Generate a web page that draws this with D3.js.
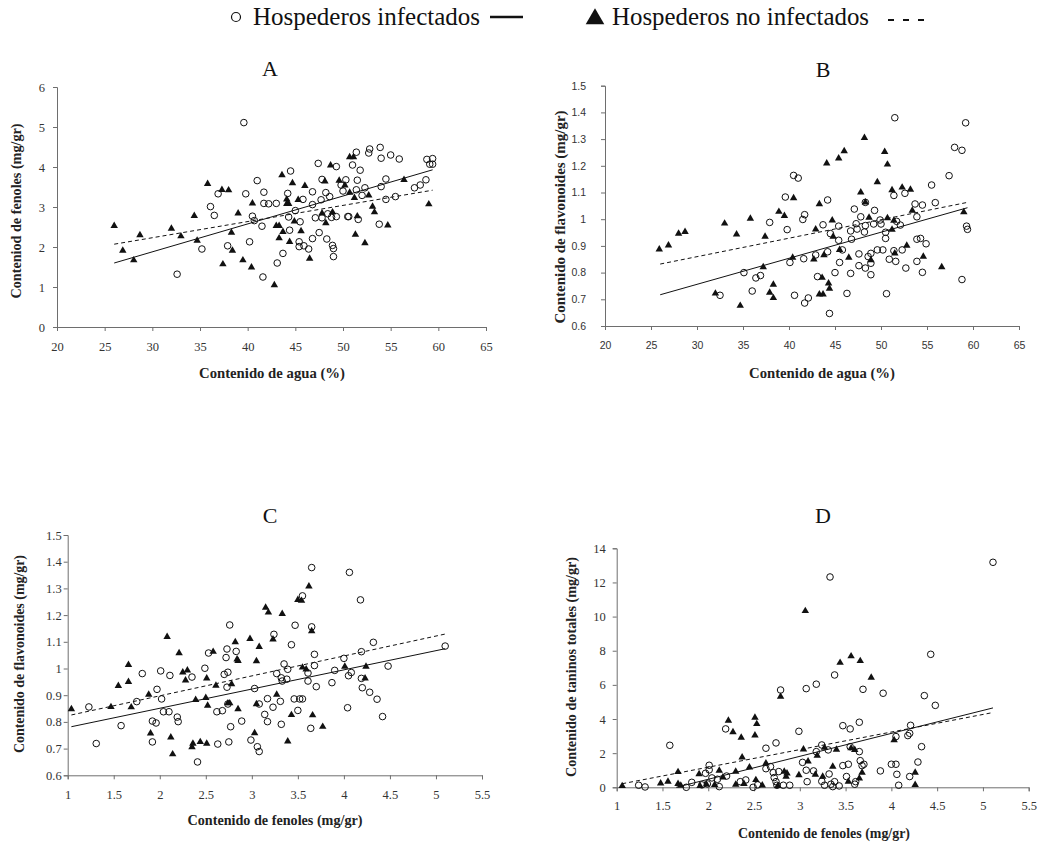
<!DOCTYPE html>
<html>
<head>
<meta charset="utf-8">
<script src="https://cdn.jsdelivr.net/npm/d3@7"></script>
<style>
  body { margin: 0; background: #fff; }
  svg { display: block; }
</style>
</head>
<body>
<svg id="chart" width="1045" height="846"></svg>
<script>
'use strict';

// A: contenido de agua vs fenoles
const aInf = [[32.6,1.32],[35.2,1.95],[36.1,3.01],[36.5,2.79],[36.9,3.33],[37.9,2.03],[39.6,5.11],[39.8,3.33],[40.2,2.13],[40.5,2.77],[40.7,2.66],[41.0,3.66],[41.5,2.52],[41.6,1.25],[41.7,3.37],[41.7,3.09],[42.2,3.08],[43.0,3.09],[43.1,1.60],[43.7,1.84],[44.2,3.34],[44.3,2.75],[44.4,2.42],[44.5,3.90],[45.0,2.91],[45.4,2.01],[45.4,2.13],[45.5,2.63],[45.8,3.19],[45.9,2.03],[46.4,1.95],[46.8,3.06],[46.8,3.38],[46.8,2.21],[47.1,2.73],[47.4,4.09],[47.5,2.36],[47.7,3.18],[47.8,3.69],[47.8,2.73],[48.2,3.36],[48.3,2.20],[48.4,2.83],[48.6,3.26],[48.8,2.74],[48.9,2.04],[49.0,1.96],[49.0,1.76],[49.3,4.01],[49.3,2.76],[49.8,3.55],[50.0,3.40],[50.3,3.68],[50.5,2.76],[50.6,2.76],[51.0,4.05],[51.4,4.37],[51.4,3.43],[51.5,3.67],[51.6,2.69],[51.8,3.92],[52.0,3.29],[52.3,3.48],[52.7,4.35],[52.8,4.45],[53.8,2.57],[54.0,3.51],[53.9,4.49],[54.0,4.22],[54.5,3.70],[54.5,3.19],[55.0,4.30],[55.5,3.26],[55.9,4.20],[57.5,3.48],[58.1,3.55],[58.7,3.68],[58.8,4.19],[59.1,4.07],[59.4,4.21],[59.4,4.07]];
const aNon = [[26.0,2.53],[26.9,1.91],[28.05,1.67],[28.7,2.30],[32.0,2.46],[33.0,2.27],[34.4,2.78],[34.7,2.16],[35.8,3.58],[37.3,3.43],[38.0,3.42],[37.4,1.57],[38.3,2.36],[38.4,1.91],[39.0,2.84],[39.5,1.67],[40.4,1.49],[40.5,3.09],[42.8,1.05],[43.0,2.53],[43.3,2.53],[43.3,2.22],[43.6,3.80],[43.7,2.38],[44.1,3.19],[44.1,3.08],[44.3,3.08],[44.4,2.13],[44.7,3.60],[44.9,2.64],[45.3,3.18],[45.6,2.40],[46.0,3.53],[46.5,1.71],[47.8,2.84],[48.1,3.64],[48.2,2.60],[48.7,4.04],[48.9,2.87],[49.6,3.66],[50.2,3.54],[50.7,4.25],[51.1,4.25],[50.7,3.36],[51.2,3.23],[51.3,2.31],[51.5,2.77],[52.3,2.10],[52.7,3.29],[53.1,3.01],[53.3,2.87],[54.7,2.54],[56.4,3.68],[59.0,3.07]];
const aTrendInf = [[26,1.6],[59.4,3.93]];
const aTrendNon = [[26,2.07],[59.4,3.42]];

// B: contenido de agua vs flavonoides
const bInf = [[32.5,0.715],[35.1,0.800],[36.0,0.731],[36.4,0.780],[36.9,0.789],[37.9,0.988],[39.6,1.083],[39.8,0.961],[40.1,0.838],[40.5,1.164],[40.6,0.715],[41.0,1.154],[41.5,0.999],[41.6,0.852],[41.7,1.017],[41.7,0.686],[42.1,0.705],[42.9,0.866],[43.1,0.785],[43.7,0.979],[44.2,1.072],[44.2,0.878],[44.4,0.647],[44.5,0.946],[45.0,0.800],[45.4,0.921],[45.4,0.974],[45.5,0.838],[45.8,0.885],[46.3,0.722],[46.7,0.956],[46.7,0.797],[46.8,0.925],[47.1,1.038],[47.3,0.983],[47.4,0.963],[47.6,0.870],[47.6,0.826],[47.8,1.009],[48.2,0.952],[48.3,0.817],[48.3,0.976],[48.3,1.063],[48.6,0.860],[48.9,0.835],[48.9,0.792],[48.9,0.872],[49.2,0.982],[49.3,1.033],[49.6,0.885],[49.9,0.997],[50.0,0.982],[50.2,0.885],[50.5,0.951],[50.5,0.928],[50.6,0.721],[50.9,0.850],[51.4,1.089],[51.4,0.882],[51.5,1.380],[51.6,0.842],[51.7,0.992],[52.1,0.978],[52.3,0.885],[52.6,1.097],[52.7,0.817],[53.7,1.057],[53.9,1.009],[53.9,0.925],[53.9,0.842],[54.3,0.928],[54.5,1.053],[54.5,0.801],[54.9,0.908],[55.5,1.128],[55.9,1.062],[57.4,1.163],[58.0,1.269],[58.8,1.258],[58.8,0.774],[59.2,1.361],[59.3,0.974],[59.4,0.962]];
const bNon = [[25.9,0.887],[26.9,0.902],[28.0,0.946],[28.7,0.953],[32.0,0.722],[33.0,0.984],[34.3,0.943],[34.7,0.676],[35.8,1.002],[37.2,0.821],[37.4,0.935],[37.9,0.725],[38.3,0.755],[38.3,0.705],[38.9,1.028],[39.5,1.013],[40.4,0.856],[40.5,1.079],[42.7,0.850],[42.9,0.962],[43.3,1.057],[43.3,0.719],[43.6,0.781],[43.7,0.719],[43.8,0.866],[44.1,1.209],[44.3,0.760],[44.4,0.740],[44.7,0.996],[44.8,0.935],[45.4,1.228],[45.5,0.885],[46.0,1.255],[46.5,0.856],[47.8,1.101],[48.2,1.305],[48.3,1.063],[48.7,1.006],[48.9,0.847],[49.6,1.139],[50.4,1.252],[50.7,1.004],[50.7,1.205],[51.2,1.109],[51.2,0.961],[51.4,0.995],[51.5,0.872],[52.3,1.119],[52.8,0.901],[53.2,1.111],[53.4,1.032],[54.6,0.860],[56.6,0.821],[59.0,1.027]];
const bTrendInf = [[26,0.717],[59.4,1.043]];
const bTrendNon = [[26,0.832],[59.4,1.063]];

// C: fenoles vs flavonoides
const cInf = [[1.23,0.856],[1.31,0.719],[1.58,0.786],[1.75,0.876],[1.81,0.981],[1.92,0.803],[1.92,0.725],[1.96,0.796],[1.97,0.922],[2.01,0.991],[2.02,0.886],[2.04,0.838],[2.10,0.838],[2.11,0.974],[2.19,0.818],[2.20,0.801],[2.35,0.968],[2.41,0.650],[2.49,1.001],[2.53,1.058],[2.62,0.838],[2.63,0.717],[2.68,0.842],[2.70,0.978],[2.72,1.041],[2.73,1.073],[2.73,0.930],[2.74,0.867],[2.74,0.986],[2.75,0.725],[2.76,1.163],[2.77,0.782],[2.83,1.064],[2.89,0.803],[2.99,0.732],[3.03,0.925],[3.06,0.707],[3.08,0.689],[3.08,0.867],[3.14,0.828],[3.17,0.887],[3.17,0.801],[3.23,0.855],[3.24,1.128],[3.27,0.981],[3.31,0.877],[3.32,0.965],[3.32,0.791],[3.33,0.953],[3.35,1.017],[3.38,0.960],[3.39,0.997],[3.43,1.089],[3.46,0.886],[3.47,1.162],[3.50,0.843],[3.52,0.886],[3.55,0.886],[3.55,1.272],[3.61,0.983],[3.61,0.953],[3.64,0.776],[3.65,1.156],[3.65,1.378],[3.68,1.011],[3.68,1.053],[3.70,0.932],[3.87,0.947],[3.90,0.993],[4.00,1.038],[4.04,0.853],[4.05,0.973],[4.06,1.360],[4.08,0.985],[4.18,1.257],[4.19,1.063],[4.19,0.963],[4.20,0.928],[4.28,0.911],[4.32,1.098],[4.36,0.885],[4.42,0.820],[4.48,1.009],[5.10,1.084]];
const cNon = [[1.04,0.848],[1.47,0.856],[1.55,0.935],[1.66,0.950],[1.66,1.014],[1.69,0.855],[1.88,0.902],[1.90,0.757],[2.08,1.119],[2.12,0.742],[2.14,0.679],[2.21,1.058],[2.25,0.986],[2.28,0.956],[2.30,0.993],[2.35,0.706],[2.36,0.719],[2.39,0.883],[2.44,0.725],[2.50,0.890],[2.51,0.719],[2.51,0.963],[2.52,0.861],[2.58,1.063],[2.61,0.936],[2.74,0.870],[2.76,0.870],[2.78,0.942],[2.82,1.099],[2.84,1.034],[2.85,1.029],[2.85,0.848],[2.98,1.111],[3.03,0.758],[3.05,1.028],[3.05,0.867],[3.08,1.081],[3.15,1.228],[3.18,1.210],[3.23,1.109],[3.27,0.902],[3.33,1.205],[3.39,0.727],[3.43,0.826],[3.50,1.257],[3.54,1.254],[3.55,1.004],[3.59,0.997],[3.62,1.308],[3.65,1.140],[3.66,0.825],[3.77,0.782],[4.01,1.007],[4.23,0.963],[4.24,1.007]];
const cTrendInf = [[1.04,0.782],[5.10,1.074]];
const cTrendNon = [[1.04,0.826],[5.10,1.129]];

// D: fenoles vs taninos totales
const dInf = [[1.24,0.12],[1.31,0.02],[1.58,2.46],[1.76,0.00],[1.82,0.29],[1.93,0.14],[1.97,0.82],[1.99,0.20],[2.01,1.29],[2.01,1.02],[2.04,0.55],[2.10,0.47],[2.12,0.04],[2.19,3.42],[2.20,0.66],[2.35,0.33],[2.41,0.43],[2.49,0.00],[2.54,0.14],[2.63,1.09],[2.63,2.29],[2.68,1.21],[2.71,0.86],[2.72,0.57],[2.74,0.33],[2.74,2.60],[2.75,0.12],[2.77,0.92],[2.79,5.70],[2.82,0.12],[2.89,0.12],[2.99,3.28],[3.03,1.46],[3.07,1.00],[3.07,5.78],[3.08,0.33],[3.15,0.96],[3.18,6.04],[3.18,2.09],[3.24,2.48],[3.24,0.35],[3.27,0.12],[3.31,2.19],[3.32,0.78],[3.33,12.32],[3.34,0.18],[3.36,0.04],[3.38,6.58],[3.38,0.33],[3.43,0.08],[3.47,3.61],[3.47,1.27],[3.51,0.63],[3.53,1.35],[3.55,3.42],[3.55,2.38],[3.60,0.18],[3.61,0.33],[3.65,3.81],[3.65,2.09],[3.66,1.56],[3.68,1.27],[3.69,5.74],[3.70,1.35],[3.88,0.96],[3.91,5.51],[4.00,1.35],[4.05,2.97],[4.05,1.35],[4.06,0.76],[4.08,0.12],[4.18,3.03],[4.20,3.16],[4.20,0.63],[4.21,3.63],[4.29,1.48],[4.33,2.38],[4.36,5.37],[4.43,7.79],[4.48,4.80],[5.11,13.18]];
const dNon = [[1.06,0.08],[1.48,0.23],[1.56,0.33],[1.67,0.90],[1.67,0.20],[1.70,0.10],[1.90,0.78],[1.91,0.08],[1.98,0.18],[2.07,0.14],[2.12,0.98],[2.16,0.59],[2.22,3.91],[2.27,3.24],[2.30,0.92],[2.30,0.16],[2.36,2.91],[2.37,1.76],[2.39,0.20],[2.45,1.17],[2.51,4.08],[2.51,3.05],[2.53,3.71],[2.52,0.43],[2.59,0.12],[2.63,1.41],[2.76,0.08],[2.79,5.31],[2.83,0.92],[2.85,0.63],[2.86,0.82],[2.99,0.72],[3.04,2.23],[3.06,10.33],[3.09,1.52],[3.17,0.74],[3.19,1.86],[3.25,0.63],[3.27,2.32],[3.36,1.21],[3.40,2.21],[3.44,7.30],[3.53,0.33],[3.56,2.29],[3.56,7.68],[3.60,2.19],[3.65,0.53],[3.66,7.40],[3.68,0.86],[3.78,6.43],[4.03,2.77],[4.26,0.86],[4.26,0.14]];
const dTrendInf = [[1.65,0.0],[5.11,4.65]];
const dTrendNon = [[1.06,0.21],[5.11,4.38]];

// ticks
const aguaTicks = [20, 25, 30, 35, 40, 45, 50, 55, 60, 65];
const fenolTicks = [1, 1.5, 2, 2.5, 3, 3.5, 4, 4.5, 5, 5.5];
const fenolesYTicks = [0, 1, 2, 3, 4, 5, 6];
const flavTicks = [0.6, 0.7, 0.8, 0.9, 1, 1.1, 1.2, 1.3, 1.4, 1.5];
const taninTicks = [0, 2, 4, 6, 8, 10, 12, 14];

const legendLabels = ['Hospederos infectados', 'Hospederos no infectados'];

const svg = d3.select('#chart');
const serif = '"Liberation Serif", "Times New Roman", serif';
const sans = '"Liberation Sans", Arial, sans-serif';
const fmt = d3.format('~g');

const panels = [
  {
    title: 'A', titleX: 270, titleY: 76,
    inf: aInf, non: aNon, trendInf: aTrendInf, trendNon: aTrendNon,
    xDomain: [20, 65], xRange: [57, 486], yDomain: [0, 6], yRange: [327, 87],
    xTicks: aguaTicks, yTicks: fenolesYTicks, tickFont: serif, tickSize: 12.5,
    xPad: 11, yPad: 8,
    xLabel: 'Contenido de agua (%)', xLabelX: 272, xLabelY: 378, xLabelLen: 146,
    yLabel: 'Conteniod de fenoles (mg/gr)', yLabelX: 16, yLabelY: 211, yLabelLen: 175
  },
  {
    title: 'B', titleX: 823, titleY: 77,
    inf: bInf, non: bNon, trendInf: bTrendInf, trendNon: bTrendNon,
    xDomain: [20, 65], xRange: [605, 1019], yDomain: [0.6, 1.5], yRange: [326, 85.7],
    xTicks: aguaTicks, yTicks: flavTicks, tickFont: sans, tickSize: 10.5,
    xPad: 12, yPad: 15,
    xLabel: 'Contenido de agua (%)', xLabelX: 822, xLabelY: 378, xLabelLen: 146,
    yLabel: 'Contenido de flavonoides (mg/gr)', yLabelX: 560, yLabelY: 217, yLabelLen: 213
  },
  {
    title: 'C', titleX: 270, titleY: 523,
    inf: cInf, non: cNon, trendInf: cTrendInf, trendNon: cTrendNon,
    xDomain: [1, 5.5], xRange: [67.7, 482], yDomain: [0.6, 1.5], yRange: [775.3, 535],
    xTicks: fenolTicks, yTicks: flavTicks, tickFont: serif, tickSize: 12.5,
    xPad: 11, yPad: 2,
    xLabel: 'Contenido de fenoles (mg/gr)', xLabelX: 275, xLabelY: 825, xLabelLen: 175,
    yLabel: 'Contenido de flavonoides (mg/gr)', yLabelX: 19, yLabelY: 654, yLabelLen: 198
  },
  {
    title: 'D', titleX: 823, titleY: 523,
    inf: dInf, non: dNon, trendInf: dTrendInf, trendNon: dTrendNon,
    xDomain: [1, 5.5], xRange: [616.7, 1028.7], yDomain: [0, 14], yRange: [787.3, 548.3],
    xTicks: fenolTicks, yTicks: taninTicks, tickFont: serif, tickSize: 12.5,
    xPad: 10, yPad: 7,
    xLabel: 'Contenido de fenoles (mg/gr)', xLabelX: 824, xLabelY: 838, xLabelLen: 172,
    yLabel: 'Contenido de taninos totales (mg/gr)', yLabelX: 571, yLabelY: 667, yLabelLen: 220
  }
];

const triangle = d3.symbol().type(d3.symbolTriangle).size(24);

function drawPanel(p) {
  const x = d3.scaleLinear().domain(p.xDomain).range(p.xRange);
  const y = d3.scaleLinear().domain(p.yDomain).range(p.yRange);
  const g = svg.append('g');

  const xAxis = g.append('g')
    .attr('transform', `translate(0,${p.yRange[0]})`)
    .call(d3.axisBottom(x).tickValues(p.xTicks).tickFormat(fmt).tickSizeOuter(0).tickSize(4).tickPadding(p.xPad));
  const yAxis = g.append('g')
    .attr('transform', `translate(${p.xRange[0]},0)`)
    .call(d3.axisLeft(y).tickValues(p.yTicks).tickFormat(fmt).tickSizeOuter(0).tickSize(4).tickPadding(p.yPad));

  [xAxis, yAxis].forEach(ax => {
    ax.attr('font-family', p.tickFont).attr('font-size', p.tickSize);
    ax.select('.domain').attr('stroke', '#6e6e6e');
    ax.selectAll('.tick line').attr('stroke', '#6e6e6e');
    ax.selectAll('.tick text').attr('fill', '#333');
  });

  const line = d3.line().x(d => x(d[0])).y(d => y(d[1]));
  g.append('path').datum(p.trendNon)
    .attr('d', line).attr('fill', 'none')
    .attr('stroke', '#111').attr('stroke-width', 1).attr('stroke-dasharray', '4,3');
  g.append('path').datum(p.trendInf)
    .attr('d', line).attr('fill', 'none')
    .attr('stroke', '#111').attr('stroke-width', 1);

  g.append('g').selectAll('path').data(p.non).join('path')
    .attr('d', triangle)
    .attr('transform', d => `translate(${x(d[0])},${y(d[1])})`)
    .attr('fill', '#111');

  g.append('g').selectAll('circle').data(p.inf).join('circle')
    .attr('cx', d => x(d[0]))
    .attr('cy', d => y(d[1]))
    .attr('r', 3.3)
    .attr('fill', 'none')
    .attr('stroke', '#111')
    .attr('stroke-width', 1);

  g.append('text')
    .attr('x', p.titleX).attr('y', p.titleY)
    .attr('text-anchor', 'middle')
    .style('font-family', serif).style('font-size', '22px')
    .attr('fill', '#111')
    .text(p.title);

  g.append('text')
    .attr('x', p.xLabelX).attr('y', p.xLabelY)
    .attr('text-anchor', 'middle')
    .attr('textLength', p.xLabelLen).attr('lengthAdjust', 'spacingAndGlyphs')
    .style('font-family', serif).style('font-size', '15px').style('font-weight', 'bold')
    .attr('fill', '#222')
    .text(p.xLabel);

  g.append('text')
    .attr('transform', `translate(${p.yLabelX + 5},${p.yLabelY}) rotate(-90)`)
    .attr('text-anchor', 'middle')
    .attr('textLength', p.yLabelLen).attr('lengthAdjust', 'spacingAndGlyphs')
    .style('font-family', serif).style('font-size', '15px').style('font-weight', 'bold')
    .attr('fill', '#222')
    .text(p.yLabel);
}

panels.forEach(drawPanel);

// legend
const leg = svg.append('g').style('font-family', serif).style('font-size', '25px').attr('fill', '#111');
leg.append('circle').attr('cx', 236).attr('cy', 17).attr('r', 4.5)
  .attr('fill', 'none').attr('stroke', '#111').attr('stroke-width', 1.2);
leg.append('text').attr('x', 253).attr('y', 25)
  .attr('textLength', 227).attr('lengthAdjust', 'spacingAndGlyphs')
  .text(legendLabels[0]);
leg.append('line').attr('x1', 490).attr('x2', 523).attr('y1', 17).attr('y2', 17)
  .attr('stroke', '#111').attr('stroke-width', 2.5);
leg.append('path')
  .attr('d', d3.symbol().type(d3.symbolTriangle).size(150))
  .attr('transform', 'translate(595,19)')
  .attr('fill', '#111');
leg.append('text').attr('x', 612).attr('y', 25)
  .attr('textLength', 257).attr('lengthAdjust', 'spacingAndGlyphs')
  .text(legendLabels[1]);
leg.append('line').attr('x1', 888).attr('x2', 928).attr('y1', 20).attr('y2', 20)
  .attr('stroke', '#111').attr('stroke-width', 2).attr('stroke-dasharray', '6,9');
</script>
</body>
</html>
